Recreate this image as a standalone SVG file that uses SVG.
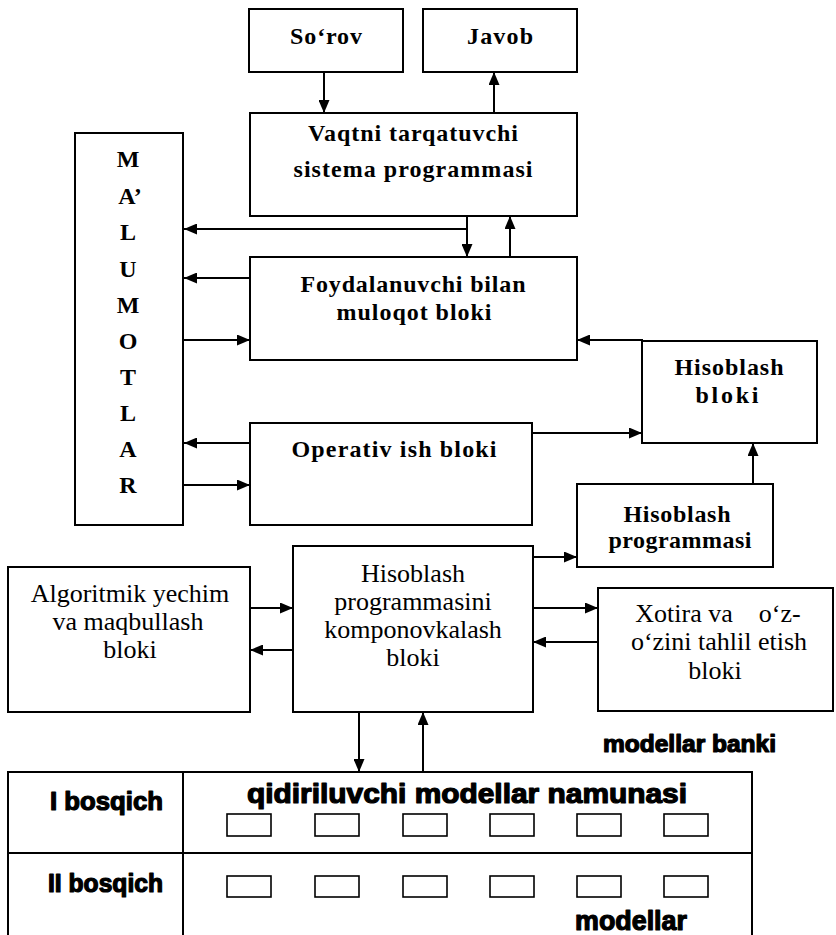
<svg xmlns="http://www.w3.org/2000/svg" width="836" height="935" viewBox="0 0 836 935">
  <style>
    .box { fill: #fff; stroke: #000; stroke-width: 2; }
    .cell { fill: #fff; stroke: #000; stroke-width: 1.6; }
    .conn { fill: none; stroke: #000; stroke-width: 2; marker-end: url(#ah); }
    .wire { fill: none; stroke: #000; stroke-width: 2; }
    .tb { font-family: "Liberation Serif", "Times New Roman", serif; font-weight: bold; font-size: 24px; text-anchor: middle; fill: #000; }
    .tr { font-family: "Liberation Serif", "Times New Roman", serif; font-size: 26px; text-anchor: middle; fill: #000; }
    .hv { font-family: "Liberation Sans", Arial, sans-serif; font-weight: bold; fill: #000; stroke: #000; stroke-width: 1.2; stroke-linejoin: round; }
  </style>
  <defs>
    <marker id="ah" viewBox="0 0 13 11" refX="13" refY="5.5" markerWidth="13" markerHeight="11" orient="auto" markerUnits="userSpaceOnUse">
      <path d="M0,0 L13,5.5 L0,11 z" fill="#000"/>
    </marker>
  </defs>

  <rect width="836" height="935" fill="#fff"/>

  <g id="sorov">
    <rect class="box" x="249" y="9" width="154" height="63"/>
    <text class="tb" x="326" y="44" textLength="72" lengthAdjust="spacing">So‘rov</text>
  </g>
  <g id="javob">
    <rect class="box" x="423" y="9" width="154" height="63"/>
    <text class="tb" x="500" y="44" textLength="66" lengthAdjust="spacing">Javob</text>
  </g>
  <g id="vaqt">
    <rect class="box" x="250" y="113" width="327" height="103"/>
    <text class="tb" x="413" y="141" textLength="210" lengthAdjust="spacing">Vaqtni tarqatuvchi</text>
    <text class="tb" x="413" y="177" textLength="239" lengthAdjust="spacing">sistema programmasi</text>
  </g>
  <g id="malumotlar">
    <rect class="box" x="75" y="133" width="108" height="392"/>
    <text class="tb" x="128" y="167">M</text>
    <text class="tb" x="130" y="204">A’</text>
    <text class="tb" x="128" y="240">L</text>
    <text class="tb" x="128" y="277">U</text>
    <text class="tb" x="128" y="313">M</text>
    <text class="tb" x="128" y="349">O</text>
    <text class="tb" x="128" y="385">T</text>
    <text class="tb" x="128" y="421">L</text>
    <text class="tb" x="128" y="457">A</text>
    <text class="tb" x="128" y="493">R</text>
  </g>
  <g id="foydalanuvchi">
    <rect class="box" x="250" y="257" width="327" height="103"/>
    <text class="tb" x="413" y="292" textLength="225" lengthAdjust="spacing">Foydalanuvchi bilan</text>
    <text class="tb" x="414" y="320" textLength="155" lengthAdjust="spacing">muloqot bloki</text>
  </g>
  <g id="hisob-bloki">
    <rect class="box" x="642" y="341" width="175" height="102"/>
    <text class="tb" x="729" y="375" textLength="109" lengthAdjust="spacing">Hisoblash</text>
    <text class="tb" x="727" y="403" textLength="63" lengthAdjust="spacing">bloki</text>
  </g>
  <g id="operativ">
    <rect class="box" x="250" y="423" width="282" height="102"/>
    <text class="tb" x="394" y="457" textLength="205" lengthAdjust="spacing">Operativ ish bloki</text>
  </g>
  <g id="hisob-prog">
    <rect class="box" x="577" y="484" width="196" height="83"/>
    <text class="tb" x="677" y="522" textLength="107" lengthAdjust="spacing">Hisoblash</text>
    <text class="tb" x="680" y="548" textLength="143" lengthAdjust="spacing">programmasi</text>
  </g>
  <g id="algoritmik">
    <rect class="box" x="8" y="567" width="242" height="145"/>
    <text class="tr" x="130" y="602">Algoritmik yechim</text>
    <text class="tr" x="128" y="630">va maqbullash</text>
    <text class="tr" x="130" y="658">bloki</text>
  </g>
  <g id="komponovka">
    <rect class="box" x="293" y="546" width="240" height="166"/>
    <text class="tr" x="413" y="582">Hisoblash</text>
    <text class="tr" x="413" y="610">programmasini</text>
    <text class="tr" x="413" y="638">komponovkalash</text>
    <text class="tr" x="413" y="666">bloki</text>
  </g>
  <g id="xotira">
    <rect class="box" x="598" y="588" width="235" height="123"/>
    <text class="tr" x="718" y="622" xml:space="preserve">Xotira va    o‘z-</text>
    <text class="tr" x="719" y="650">o‘zini tahlil etish</text>
    <text class="tr" x="715" y="679">bloki</text>
  </g>

  <g id="modellar-banki">
    <text class="hv" x="603" y="752" font-size="23" textLength="173" lengthAdjust="spacingAndGlyphs">modellar banki</text>
  </g>

  <g id="bosqich-jadval">
    <rect class="box" x="8" y="772" width="744" height="170"/>
    <line class="wire" x1="183" y1="772" x2="183" y2="935"/>
    <line class="wire" x1="8" y1="853" x2="752" y2="853"/>
    <text class="hv" x="163" y="810" font-size="25" text-anchor="end" textLength="113" lengthAdjust="spacingAndGlyphs">I bosqich</text>
    <text class="hv" x="163" y="892" font-size="25" text-anchor="end" textLength="115" lengthAdjust="spacingAndGlyphs">II bosqich</text>
    <text class="hv" x="247" y="803" font-size="27" textLength="440" lengthAdjust="spacingAndGlyphs">qidiriluvchi modellar namunasi</text>
    <g id="namuna-1">
      <rect class="cell" x="227" y="814" width="44" height="22"/>
      <rect class="cell" x="315" y="814" width="44" height="22"/>
      <rect class="cell" x="403" y="814" width="44" height="22"/>
      <rect class="cell" x="490" y="814" width="44" height="22"/>
      <rect class="cell" x="577" y="814" width="44" height="22"/>
      <rect class="cell" x="664" y="814" width="44" height="22"/>
    </g>
    <g id="namuna-2">
      <rect class="cell" x="227" y="876" width="44" height="21"/>
      <rect class="cell" x="315" y="876" width="44" height="21"/>
      <rect class="cell" x="403" y="876" width="44" height="21"/>
      <rect class="cell" x="490" y="876" width="44" height="21"/>
      <rect class="cell" x="577" y="876" width="44" height="21"/>
      <rect class="cell" x="664" y="876" width="44" height="21"/>
    </g>
    <text class="hv" x="575" y="930" font-size="27" textLength="112" lengthAdjust="spacingAndGlyphs">modellar</text>
  </g>

  <g id="connectors">
    <path class="conn" d="M324,72 V113"/>
    <path class="conn" d="M494,113 V72"/>
    <path class="conn" d="M467,216 V257"/>
    <path class="conn" d="M467,229 H184"/>
    <path class="conn" d="M510,257 V216"/>
    <path class="conn" d="M250,278 H184"/>
    <path class="conn" d="M184,340 H250"/>
    <path class="conn" d="M642,341 V340 H577"/>
    <path class="conn" d="M250,443 H184"/>
    <path class="conn" d="M184,485 H250"/>
    <path class="conn" d="M532,433 H642"/>
    <path class="conn" d="M753,484 V443"/>
    <path class="conn" d="M533,557 H577"/>
    <path class="conn" d="M533,608 H598"/>
    <path class="conn" d="M598,642 H533"/>
    <path class="conn" d="M250,608 H293"/>
    <path class="conn" d="M293,650 H250"/>
    <path class="conn" d="M359,712 V772"/>
    <path class="conn" d="M423,772 V712"/>
  </g>
</svg>
